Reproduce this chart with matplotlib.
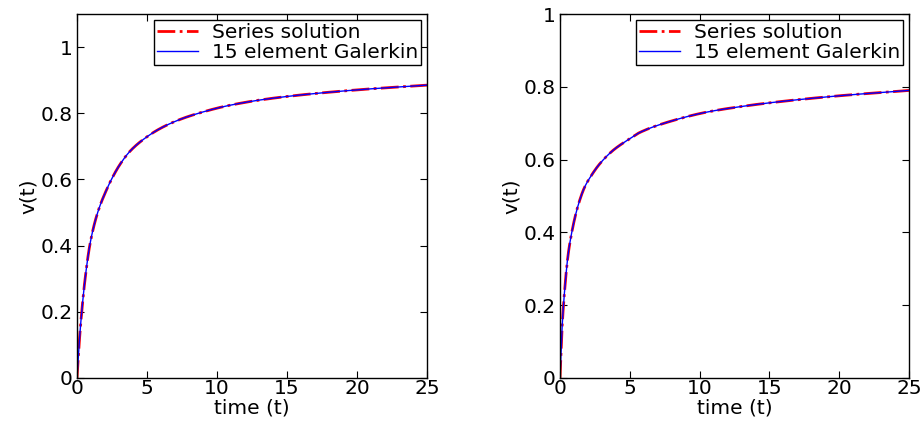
import numpy as np
import matplotlib.pyplot as plt

plt.rcParams['font.family'] = ['DejaVu Sans']

# values
t_left = [0, 0.15, 0.31, 0.6, 0.91, 1.26, 1.62, 2.0, 2.46, 3.05, 3.76, 4.71,
          5.9, 7.1, 8.29, 10.67, 13.05, 15.9, 20.4, 25]
v_left = [0, 0.10, 0.186, 0.307, 0.40, 0.468, 0.518, 0.558, 0.60, 0.644, 0.684, 0.720,
          0.753, 0.777, 0.795, 0.822, 0.840, 0.855, 0.872, 0.885]

t_right = [0, 0.17, 0.34, 0.57, 0.89, 1.29, 1.76, 2.24, 2.84, 3.79, 4.98,
           5.69, 8.07, 10.45, 12.83, 15.69, 20.2, 25]
v_right = [0, 0.152, 0.244, 0.335, 0.409, 0.473, 0.524, 0.556, 0.588, 0.625, 0.657,
           0.674, 0.707, 0.730, 0.745, 0.759, 0.776, 0.790]

labels = ['Series solution', '15 element Galerkin']
xticks = [0, 5, 10, 15, 20, 25]
yticks = [0, 0.2, 0.4, 0.6, 0.8, 1]
ytick_labels = ['0', '0.2', '0.4', '0.6', '0.8', '1']

fig = plt.figure(figsize=(9.23, 4.22), dpi=100)
ax1 = fig.add_axes([0.0834, 0.1043, 0.3792, 0.8625])
ax2 = fig.add_axes([0.6067, 0.1043, 0.3781, 0.8625])


def smooth(t, v):
    # monotone cubic (pchip) through the read points so the line looks smooth
    t = np.asarray(t, float)
    v = np.asarray(v, float)
    tt = np.linspace(t[0], t[-1], 800)
    h = np.diff(t)
    d = np.diff(v) / h
    m = np.zeros_like(v)
    m[0] = d[0]
    m[-1] = d[-1]
    for i in range(1, len(v) - 1):
        if d[i - 1] * d[i] > 0:
            w1 = 2 * h[i] + h[i - 1]
            w2 = h[i] + 2 * h[i - 1]
            m[i] = (w1 + w2) / (w1 / d[i - 1] + w2 / d[i])
    idx = np.clip(np.searchsorted(t, tt) - 1, 0, len(t) - 2)
    s = (tt - t[idx]) / h[idx]
    h00 = 2 * s**3 - 3 * s**2 + 1
    h10 = s**3 - 2 * s**2 + s
    h01 = -2 * s**3 + 3 * s**2
    h11 = s**3 - s**2
    vv = h00 * v[idx] + h10 * h[idx] * m[idx] + h01 * v[idx + 1] + h11 * h[idx] * m[idx + 1]
    return tt, vv


fs = 14.5
for ax, t, v, ymax in [(ax1, t_left, v_left, 1.1), (ax2, t_right, v_right, 1.0)]:
    tt, vv = smooth(t, v)
    ax.plot(tt, vv, color='red', linestyle='-.', linewidth=2, label=labels[0])
    ax.plot(tt, vv, color='blue', linestyle='-', linewidth=1, label=labels[1])
    ax.set_xlim(0, 25)
    ax.set_ylim(0, ymax)
    ax.set_xticks(xticks)
    ax.set_yticks(yticks)
    ax.set_yticklabels(ytick_labels)
    ax.tick_params(direction='in', top=True, right=True, length=5,
                   labelsize=fs)
    ax.tick_params(axis='x', pad=1)
    ax.tick_params(axis='y', pad=3)
    ax.set_xlabel('time (t)', fontsize=fs, labelpad=0)
    ax.set_ylabel('v(t)', fontsize=fs, labelpad=2)
    for sp in ax.spines.values():
        sp.set_linewidth(1)
    leg = ax.legend(loc='upper right', fontsize=fs, fancybox=False,
                    edgecolor='black', framealpha=1, borderaxespad=0.3,
                    handlelength=2.0, handletextpad=0.7, borderpad=0.15,
                    labelspacing=0.05)
    leg.get_frame().set_linewidth(1)

fig.savefig('out.png', dpi=100)
